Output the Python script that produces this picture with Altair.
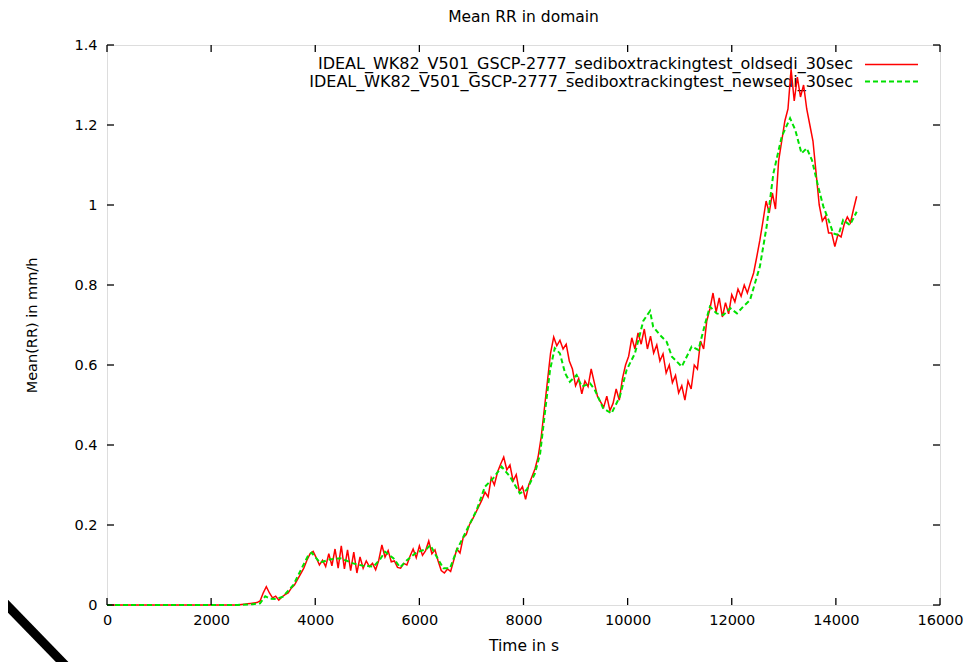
import altair as alt
import pandas as pd

# ---------------- data ----------------
old_t = [0, 2460] + list(range(2520, 14401, 60))
old_v = [0.000, 0.000,
    0.000, 0.001, 0.002, 0.003, 0.004, 0.005, 0.006, 0.010, 0.030, 0.046,
    0.030, 0.018, 0.022, 0.012, 0.020, 0.026, 0.030, 0.042, 0.050, 0.064,
    0.078, 0.092, 0.112, 0.128, 0.134, 0.118, 0.100, 0.112, 0.096, 0.128,
    0.098, 0.140, 0.092, 0.148, 0.090, 0.138, 0.086, 0.132, 0.080, 0.120,
    0.092, 0.110, 0.096, 0.104, 0.088, 0.112, 0.150, 0.120, 0.136, 0.108,
    0.110, 0.094, 0.092, 0.104, 0.100, 0.122, 0.140, 0.118, 0.148, 0.124,
    0.136, 0.160, 0.128, 0.138, 0.110, 0.086, 0.080, 0.090, 0.084, 0.112,
    0.140, 0.130, 0.168, 0.176, 0.200, 0.214, 0.230, 0.246, 0.262, 0.282,
    0.270, 0.318, 0.300, 0.332, 0.352, 0.370, 0.338, 0.350, 0.310, 0.326,
    0.284, 0.296, 0.264, 0.300, 0.320, 0.340, 0.370, 0.420, 0.490, 0.560,
    0.630, 0.670, 0.648, 0.662, 0.640, 0.652, 0.610, 0.590, 0.548, 0.566,
    0.528, 0.560, 0.546, 0.590, 0.556, 0.522, 0.508, 0.494, 0.522, 0.486,
    0.504, 0.540, 0.512, 0.566, 0.600, 0.622, 0.668, 0.640, 0.680, 0.652,
    0.690, 0.640, 0.672, 0.630, 0.650, 0.610, 0.628, 0.580, 0.600, 0.556,
    0.574, 0.530, 0.548, 0.512, 0.560, 0.540, 0.600, 0.590, 0.660, 0.640,
    0.710, 0.740, 0.780, 0.732, 0.768, 0.720, 0.756, 0.728, 0.776, 0.758,
    0.790, 0.772, 0.800, 0.780, 0.806, 0.830, 0.870, 0.912, 0.960, 1.010,
    0.980, 1.030, 0.990, 1.110, 1.160, 1.210, 1.240, 1.340, 1.260, 1.320,
    1.270, 1.300, 1.240, 1.200, 1.160, 1.080, 1.000, 0.960, 0.972, 0.930,
    0.930, 0.896, 0.926, 0.920, 0.952, 0.970, 0.956, 0.990, 1.022]

new_t = [0, 2500, 2800, 2940, 3040, 3130, 3260, 3380, 3580, 3740, 3870, 3930,
         4090, 4280, 4480, 4730, 4920, 5120, 5250, 5340, 5500, 5630, 5760,
         5950, 6140, 6210, 6330, 6460, 6590, 6720, 6910, 7100, 7260, 7420,
         7580, 7740, 7930, 8060, 8220, 8320, 8410, 8510, 8600, 8700, 8800,
         8890, 9020, 9120, 9280, 9370, 9530, 9690, 9850, 9980, 10140, 10240,
         10300, 10430, 10490, 10620, 10750, 10850, 11040, 11230, 11360, 11490,
         11580, 11710, 11840, 11970, 12100, 12220, 12350, 12540, 12670, 12800,
         12960, 13120, 13220, 13340, 13440, 13540, 13660, 13760, 13860, 13950,
         14050, 14140, 14270, 14400]
new_v = [0.0, 0.0, 0.002, 0.004, 0.022, 0.016, 0.015, 0.021, 0.050, 0.092,
         0.125, 0.131, 0.106, 0.114, 0.117, 0.104, 0.098, 0.096, 0.115, 0.133,
         0.117, 0.094, 0.112, 0.132, 0.140, 0.150, 0.121, 0.092, 0.092, 0.1375,
         0.1875, 0.2375, 0.296, 0.317, 0.346, 0.321, 0.279, 0.2875, 0.329,
         0.379, 0.479, 0.5875, 0.642, 0.629, 0.579, 0.558, 0.575, 0.546, 0.554,
         0.5375, 0.492, 0.479, 0.521, 0.5875, 0.629, 0.679, 0.710, 0.735,
         0.696, 0.675, 0.658, 0.621, 0.596, 0.646, 0.6375, 0.704, 0.746, 0.729,
         0.725, 0.742, 0.729, 0.746, 0.762, 0.846, 0.946, 1.079, 1.171, 1.217,
         1.1875, 1.129, 1.142, 1.1125, 1.046, 0.996, 0.9625, 0.929, 0.925,
         0.9625, 0.950, 0.983]

x_ticks = [0, 2000, 4000, 6000, 8000, 10000, 12000, 14000, 16000]
y_ticks = [0, 0.2, 0.4, 0.6, 0.8, 1.0, 1.2, 1.4]
label_old = "IDEAL_WK82_V501_GSCP-2777_sediboxtrackingtest_oldsedi_30sec"
label_new = "IDEAL_WK82_V501_GSCP-2777_sediboxtrackingtest_newsedi_30sec"

W, H = 833, 560
FONT = "DejaVu Sans"

xs = alt.Scale(domain=[0, 16000], nice=False, zero=False)
ys = alt.Scale(domain=[0, 1.4], nice=False)

df_old = pd.DataFrame({"t": old_t, "v": old_v})
df_new = pd.DataFrame({"t": new_t, "v": new_v})
df_xt = pd.DataFrame({"t": x_ticks})
df_yt = pd.DataFrame({"v": y_ticks})

x_axis = alt.Axis(values=x_ticks, ticks=False, domain=False, grid=False,
                  format="d",
                  labelPadding=8, labelFont=FONT, labelFontSize=14.5,
                  labelColor="black", title="Time in s", titleFont=FONT,
                  titleFontSize=15.5, titleFontWeight="normal",
                  titleColor="black", titlePadding=12, labelFlush=False)
y_axis = alt.Axis(values=y_ticks, ticks=False, domain=False, grid=False,
                  labelPadding=10, labelFont=FONT, labelFontSize=14.5,
                  labelColor="black", format=".1~f", title="Mean(RR) in mm/h",
                  titleFont=FONT, titleFontSize=14.5, titleFontWeight="normal",
                  titleColor="black", titlePadding=34, labelFlush=False)

red = alt.Chart(df_old).mark_line(color="#ff0000", strokeWidth=1.5).encode(
    x=alt.X("t:Q", scale=xs, axis=x_axis),
    y=alt.Y("v:Q", scale=ys, axis=y_axis),
)
green = alt.Chart(df_new).mark_line(color="#00e000", strokeWidth=2,
                                    strokeDash=[5, 3]).encode(
    x=alt.X("t:Q", scale=xs),
    y=alt.Y("v:Q", scale=ys),
)

tick_style = dict(color="black", strokeWidth=1.3)
xt_bot = alt.Chart(df_xt).mark_rule(**tick_style).encode(
    x=alt.X("t:Q", scale=xs), y=alt.value(H), y2=alt.value(H - 7))
xt_top = alt.Chart(df_xt).mark_rule(**tick_style).encode(
    x=alt.X("t:Q", scale=xs), y=alt.value(0), y2=alt.value(7))
yt_left = alt.Chart(df_yt).mark_rule(**tick_style).encode(
    y=alt.Y("v:Q", scale=ys), x=alt.value(0), x2=alt.value(7))
yt_right = alt.Chart(df_yt).mark_rule(**tick_style).encode(
    y=alt.Y("v:Q", scale=ys), x=alt.value(W), x2=alt.value(W - 7))

leg_text_style = dict(align="right", baseline="middle", font=FONT,
                      fontSize=16, color="black")
leg1 = alt.Chart(pd.DataFrame({"l": [label_old]})).mark_text(**leg_text_style).encode(
    text="l:N", x=alt.value(746), y=alt.value(19))
leg2 = alt.Chart(pd.DataFrame({"l": [label_new]})).mark_text(**leg_text_style).encode(
    text="l:N", x=alt.value(746), y=alt.value(36.5))
leg1_line = alt.Chart(pd.DataFrame({"a": [0]})).mark_rule(
    color="#ff0000", strokeWidth=1.6).encode(
    x=alt.value(758), x2=alt.value(811), y=alt.value(19.5))
leg2_line = alt.Chart(pd.DataFrame({"a": [0]})).mark_rule(
    color="#00e000", strokeWidth=2, strokeDash=[5, 3]).encode(
    x=alt.value(758), x2=alt.value(811), y=alt.value(36.5))

slash = alt.Chart(pd.DataFrame({"a": [0]})).mark_rule(
    color="black", strokeWidth=9).encode(
    x=alt.value(-106), y=alt.value(554), x2=alt.value(-40), y2=alt.value(622))

chart = alt.layer(
    leg1, leg2, leg1_line, leg2_line,
    red, green,
    xt_bot, xt_top, yt_left, yt_right, slash,
).properties(
    width=W, height=H,
    title=alt.TitleParams("Mean RR in domain", font=FONT, fontSize=15.5,
                          fontWeight="normal", color="black", offset=12),
    autosize=alt.AutoSizeParams(type="none"),
    padding={"left": 99, "top": 37, "right": 24, "bottom": 57},
).configure_view(
    stroke="black", strokeWidth=1.5
).configure(background="white")

chart.save("out.html", embed_options={"renderer": "svg", "actions": False})
